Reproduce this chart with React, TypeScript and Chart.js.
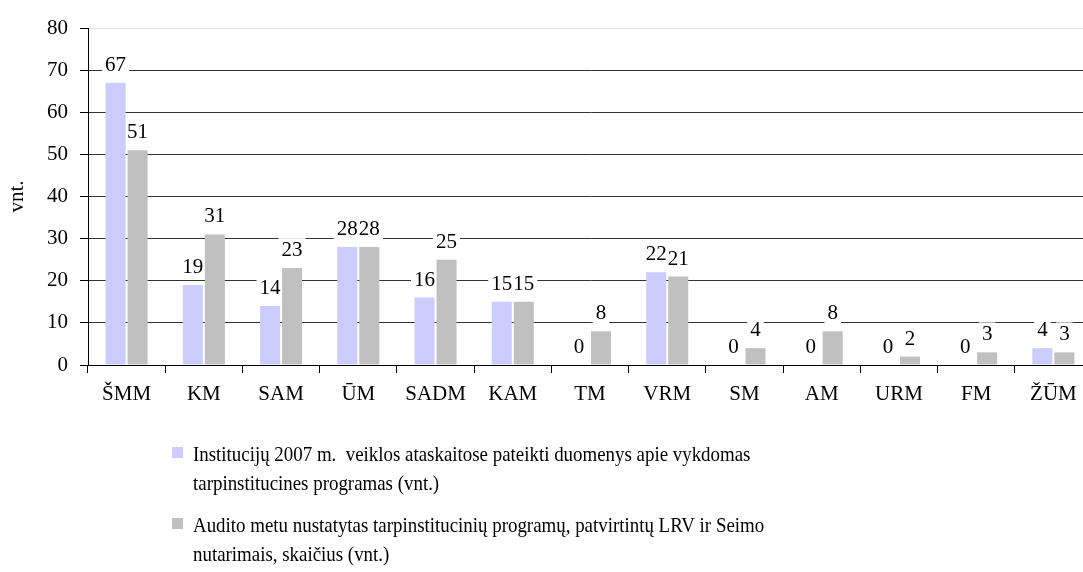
import React, { useEffect, useRef } from "react";
import { Chart, registerables } from "chart.js";

Chart.register(...registerables);

const categories = ["ŠMM", "KM", "SAM", "ŪM", "SADM", "KAM", "TM", "VRM", "SM", "AM", "URM", "FM", "ŽŪM"];
const institutionValues = [67, 19, 14, 28, 16, 15, 0, 22, 0, 0, 0, 0, 4];
const auditValues = [51, 31, 23, 28, 25, 15, 8, 21, 4, 8, 2, 3, 3];
const institutionLegendLines = [
  "Institucijų 2007 m.  veiklos ataskaitose pateikti duomenys apie vykdomas",
  "tarpinstitucines programas (vnt.)",
];
const auditLegendLines = [
  "Audito metu nustatytas tarpinstitucinių programų, patvirtintų LRV ir Seimo",
  "nutarimais, skaičius (vnt.)",
];
const yAxisTitle = "vnt.";

const FONT_FAMILY = "'Liberation Serif', 'Times New Roman', serif";
const FONT_SIZE = 21;
const FONT = `${FONT_SIZE}px ${FONT_FAMILY}`;
const COLORS = ["#CCCCFF", "#C0C0C0"];
const LABEL_GAP = 12;

const labelPlugin = {
  id: "barLabels",
  beforeDatasetsDraw(chart: any) {
    const ctx = chart.ctx;
    ctx.save();
    ctx.font = FONT;
    ctx.fillStyle = "#ffffff";
    chart.data.datasets.forEach((ds: any, di: number) => {
      const meta = chart.getDatasetMeta(di);
      meta.data.forEach((el: any, i: number) => {
        const text = String(ds.data[i]);
        const w = ctx.measureText(text).width;
        const base = el.y - LABEL_GAP;
        ctx.fillRect(el.x - w / 2 - 3, base - 18, w + 6, 23);
      });
    });
    ctx.restore();
  },
  afterDatasetsDraw(chart: any) {
    const ctx = chart.ctx;
    ctx.save();
    ctx.font = FONT;
    ctx.fillStyle = "#000000";
    ctx.textAlign = "center";
    ctx.textBaseline = "alphabetic";
    chart.data.datasets.forEach((ds: any, di: number) => {
      const meta = chart.getDatasetMeta(di);
      meta.data.forEach((el: any, i: number) => {
        const text = String(ds.data[i]);
        ctx.fillText(text, el.x, el.y - LABEL_GAP);
      });
    });
    ctx.restore();
  },
};

const legendPlugin = {
  id: "wrapLegend",
  afterDraw(chart: any) {
    const ctx = chart.ctx;
    const area = chart.chartArea;
    const items = [
      { lines: institutionLegendLines, color: COLORS[0] },
      { lines: auditLegendLines, color: COLORS[1] },
    ];
    ctx.save();
    ctx.font = FONT;
    ctx.textAlign = "left";
    ctx.textBaseline = "alphabetic";
    let baseline = area.bottom + 96;
    items.forEach((item) => {
      ctx.fillStyle = item.color;
      ctx.fillRect(172, baseline - 14, 11, 11);
      ctx.fillStyle = "#000000";
      item.lines.forEach((line, li) => {
        ctx.save();
        ctx.translate(193, baseline + li * 29);
        ctx.scale(0.9, 1);
        ctx.fillText(line, 0, 0);
        ctx.restore();
      });
      baseline += 71;
    });
    ctx.restore();
  },
};

export default function App() {
  const canvasRef = useRef<HTMLCanvasElement | null>(null);

  useEffect(() => {
    if (!canvasRef.current) return;
    const chart = new Chart(canvasRef.current, {
      type: "bar",
      data: {
        labels: categories,
        datasets: [
          {
            label: institutionLegendLines.join(" "),
            data: institutionValues,
            backgroundColor: COLORS[0],
            borderWidth: 0,
            categoryPercentage: 0.57,
            barPercentage: 0.91,
          },
          {
            label: auditLegendLines.join(" "),
            data: auditValues,
            backgroundColor: COLORS[1],
            borderWidth: 0,
            categoryPercentage: 0.57,
            barPercentage: 0.91,
          },
        ],
      },
      options: {
        responsive: false,
        animation: false,
        devicePixelRatio: 1,
        layout: { padding: { top: 28, right: 8, bottom: 0, left: 0 } },
        plugins: {
          legend: { display: false },
          tooltip: { enabled: false },
          title: { display: false },
        },
        scales: {
          x: {
            grid: {
              offset: true,
              drawOnChartArea: false,
              drawTicks: true,
              tickLength: 8,
              color: "#000000",
            },
            border: { display: true, color: "#000000", width: 1 },
            ticks: {
              color: "#000000",
              font: { family: FONT_FAMILY, size: FONT_SIZE },
              padding: 9,
              maxRotation: 0,
              autoSkip: false,
            },
            afterFit(scale: any) {
              scale.height = 572 - 365;
            },
          },
          y: {
            min: 0,
            max: 80,
            ticks: {
              stepSize: 10,
              color: "#000000",
              font: { family: FONT_FAMILY, size: FONT_SIZE },
              padding: 12,
            },
            grid: {
              color: (c: any) => (c.tick && c.tick.value === 80 ? "#e4e4e4" : "#333333"),
              tickColor: "#000000",
              tickLength: 8,
              lineWidth: 1,
            },
            border: { display: true, color: "#000000", width: 1 },
            title: {
              display: true,
              text: yAxisTitle,
              color: "#000000",
              font: { family: FONT_FAMILY, size: FONT_SIZE },
              padding: { top: 5, bottom: 0 },
            },
            afterFit(scale: any) {
              scale.width = 88;
            },
          },
        },
      },
      plugins: [labelPlugin, legendPlugin],
    });
    return () => chart.destroy();
  }, []);

  return (
    <div
      style={{
        position: "fixed",
        left: 0,
        top: 0,
        width: 1083,
        height: 572,
        overflow: "hidden",
        background: "#ffffff",
      }}
    >
      <canvas ref={canvasRef} width={1100} height={572} style={{ display: "block", width: 1100, height: 572 }} />
    </div>
  );
}
